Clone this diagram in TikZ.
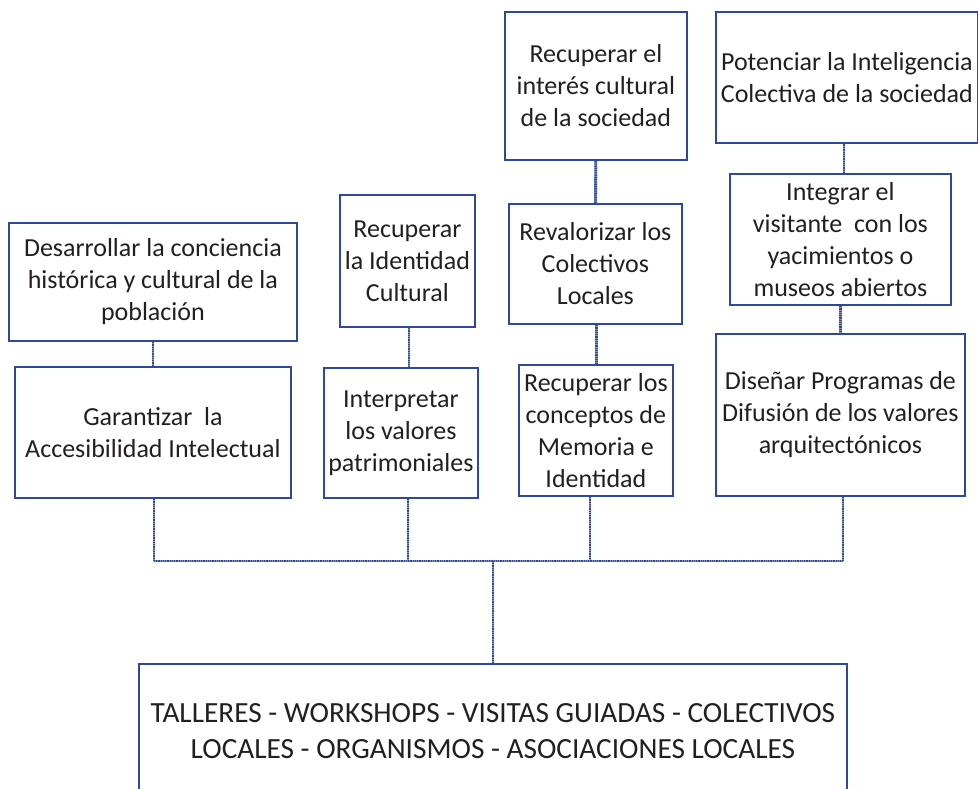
\documentclass[tikz,border=0pt]{standalone}
\usepackage{fontspec}
\setmainfont{Carlito}
\usetikzlibrary{positioning}

\definecolor{boxblue}{RGB}{46,72,154}
\definecolor{linkblue}{RGB}{50,74,150}
\definecolor{linklight}{RGB}{130,148,200}
\definecolor{txtgray}{RGB}{35,31,32}

\tikzset{
  goal/.style={draw=boxblue, line width=1.8pt, rectangle, inner sep=0pt,
    anchor=north west, align=center, text=txtgray,
    font=\fontsize{26}{32}\selectfont},
  link/.style={draw=linkblue, line width=2.8pt, dash pattern=on 1pt off 0.8pt,
    preaction={draw=linklight, line width=2.8pt, solid}}
}

\begin{document}
\begin{tikzpicture}[x=1pt, y=-1pt]
    \useasboundingbox (0,0) rectangle (978,789);

    % Node definitions
    \node (A1) at (8,222) [goal, minimum width=288pt, minimum height=118pt]
      {Desarrollar la conciencia\\histórica y cultural de la\\población};
    \node (A2) at (14,366) [goal, minimum width=276pt, minimum height=131pt]
      {Garantizar\ \ la\\Accesibilidad Intelectual};
    \node (B1) at (339,194) [goal, minimum width=135pt, minimum height=132pt]
      {Recuperar\\la Identidad\\Cultural};
    \node (B2) at (323,367) [goal, minimum width=154pt, minimum height=130pt]
      {Interpretar\\los valores\\patrimoniales};
    \node (C1) at (504,11) [goal, minimum width=182pt, minimum height=148pt]
      {Recuperar el\\interés cultural\\de la sociedad};
    \node (C2) at (508,203) [goal, minimum width=173pt, minimum height=120pt]
      {Revalorizar los\\Colectivos\\Locales};
    \node (C3) at (518,364) [goal, minimum width=154pt, minimum height=131pt]
      {Recuperar los\\conceptos de\\Memoria e\\Identidad};
    \node (D1) at (715,11) [goal, minimum width=262pt, minimum height=131pt]
      {Potenciar la Inteligencia\\Colectiva de la sociedad};
    \node (D2) at (729,173) [goal, minimum width=221pt, minimum height=131pt]
      {Integrar el\\visitante\ \ con los\\yacimientos o\\museos abiertos};
    \node (D3) at (715,333) [goal, minimum width=249pt, minimum height=162pt]
      {Diseñar Programas de\\Difusión de los valores\\arquitectónicos};
    \node (E) at (138,663) [goal, minimum width=708pt, minimum height=134pt,
      font=\fontsize{29.3}{36}\selectfont]
      {TALLERES - WORKSHOPS - VISITAS GUIADAS - COLECTIVOS\\LOCALES - ORGANISMOS - ASOCIACIONES LOCALES};

    \coordinate (hub) at (493,561);

    % Links between stacked goals
    \draw[link] (A1) -- (A2);
    \draw[link] ([xshift=1.5pt]B1.south) -- ([xshift=1.5pt]B1.south |- B2.north);
    \draw[link] (C1) -- (C2);
    \draw[link] ([xshift=1pt]C2.south) -- ([xshift=1pt]C2.south |- C3.north);
    \draw[link] ([xshift=3.5pt]D2.north) -- ([xshift=3.5pt]D2.north |- D1.south);
    \draw[link] (D2) -- (D3);

    % Links down to the bus and the activities box
    \draw[link] ([xshift=1pt]A2.south) -- ([xshift=1pt]A2.south |- hub);
    \draw[link] ([xshift=7pt]B2.south) -- ([xshift=7pt]B2.south |- hub);
    \draw[link] ([xshift=-6pt]C3.south) -- ([xshift=-6pt]C3.south |- hub);
    \draw[link] ([xshift=2.5pt]D3.south) -- ([xshift=2.5pt]D3.south |- hub);
    \draw[link] ([xshift=1pt]A2.south |- hub) -- ([xshift=2.5pt]D3.south |- hub);
    \draw[link] (hub) -- (hub |- E.north);
\end{tikzpicture}
\end{document}
